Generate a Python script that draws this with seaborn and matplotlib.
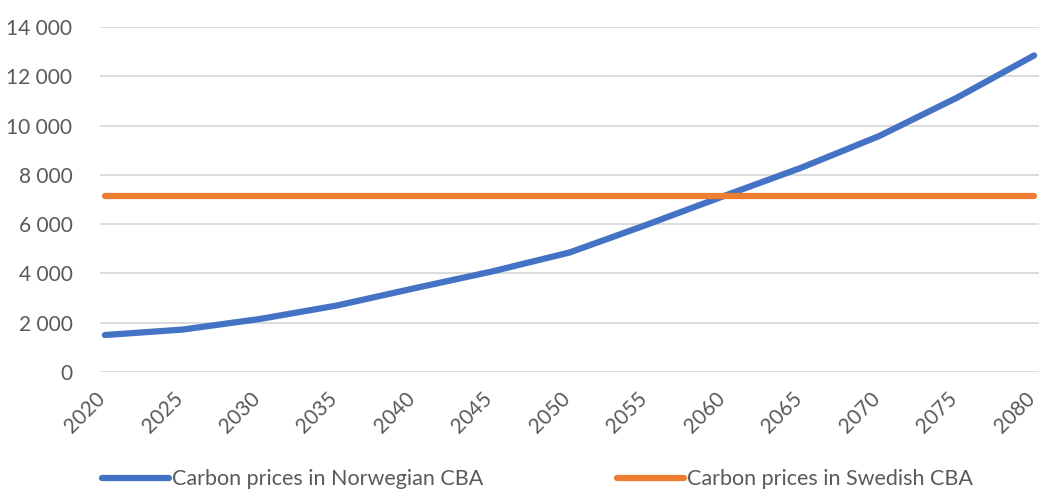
import numpy as np
import pandas as pd
import seaborn as sns
import matplotlib.pyplot as plt
import matplotlib.transforms as mtransforms
from matplotlib.ticker import FuncFormatter, MultipleLocator

# Data
years = [2020, 2025, 2030, 2035, 2040, 2045, 2050, 2055, 2060, 2065, 2070, 2075, 2080]
norwegian = [1500, 1720, 2150, 2700, 3400, 4080, 4850, 5980, 7150, 8300, 9580, 11130, 12850]
swedish = [7150] * len(years)
series_names = ["Carbon prices in Norwegian CBA", "Carbon prices in Swedish CBA"]
tick_years = list(range(2020, 2081, 5))

df = pd.DataFrame({
    "year": years * 2,
    "price": norwegian + swedish,
    "series": [series_names[0]] * len(years) + [series_names[1]] * len(years),
})

sns.set_theme(style="white")
plt.rcParams['font.family'] = ['Lato', 'DejaVu Sans']

TEXT = "#595959"
palette = {series_names[0]: "#4472C4", series_names[1]: "#ED7D31"}

fig = plt.figure(figsize=(10.44, 4.93), dpi=100)
ax = fig.add_axes([0.096, 0.2455, 0.899, 0.6995])

sns.lineplot(data=df, x="year", y="price", hue="series", palette=palette,
             linewidth=4.5, ax=ax, legend=False)
for ln in ax.get_lines():
    ln.set_solid_capstyle("round")

ax.set_xlim(2019.7, 2080.3)
ax.set_ylim(0, 14000)
ax.yaxis.set_major_locator(MultipleLocator(2000))
ax.yaxis.set_major_formatter(FuncFormatter(lambda v, p: f"{v:,.0f}".replace(",", " ")))
ax.set_xticks(tick_years)
ax.set_xticklabels([str(y) for y in tick_years], rotation=45, ha="right", va="top",
                   rotation_mode="anchor")

ax.grid(axis="y", color="#D9D9D9", linewidth=1.3)
ax.set_axisbelow(True)
for s in ax.spines.values():
    s.set_visible(False)
ax.tick_params(axis="both", length=0, labelsize=15, labelcolor=TEXT)
ax.tick_params(axis="y", pad=20)
ax.tick_params(axis="x", pad=4)
ax.set_xlabel("")
ax.set_ylabel("")

# nudge the rotated year labels down-left like the original
shift = mtransforms.ScaledTranslation(-7 / 72, -8 / 72, fig.dpi_scale_trans)
for lab in ax.get_xticklabels():
    lab.set_transform(lab.get_transform() + shift)

handles = [plt.Line2D([], [], color=palette[n], linewidth=4.5) for n in series_names]
fig.legend(handles, series_names, loc="center", bbox_to_anchor=(0.515, 0.028),
           ncol=2, frameon=False, fontsize=15.5, labelcolor=TEXT,
           handlelength=3.1, handletextpad=0.15, columnspacing=6.2)

fig.savefig("out.png", dpi=100)
